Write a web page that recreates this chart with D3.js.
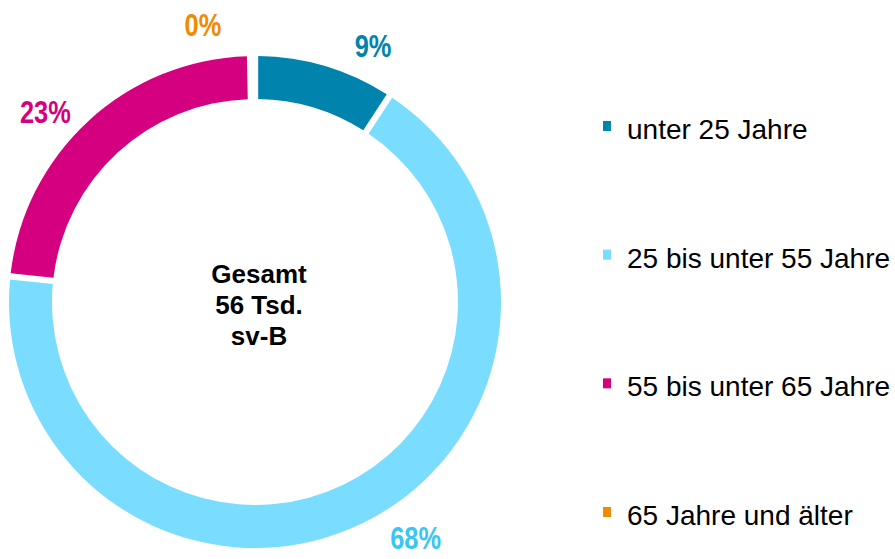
<!DOCTYPE html>
<html>
<head>
<meta charset="utf-8">
<script src="https://cdn.jsdelivr.net/npm/d3@7"></script>
<style>
    html, body { margin: 0; padding: 0; background: #fff; }
    #chart { width: 895px; height: 559px; }
    text { font-family: "Liberation Sans", Arial, sans-serif; }
</style>
</head>
<body>
<div id="chart"></div>
<script>
//Datos
const categorias = ['unter 25 Jahre', '25 bis unter 55 Jahre', '55 bis unter 65 Jahre', '65 Jahre und älter'];
const valores = [9, 68, 23, 0];
const etiquetas = ['9%', '68%', '23%', '0%'];
const centroTexto = ['Gesamt', '56 Tsd.', 'sv-B'];

//Colores fijos
const COLORES = ['#0083AD', '#7ADDFF', '#D5007F', '#F08A00'];
const COLORES_LABEL = ['#0083AD', '#38C6F4', '#D5007F', '#F08A00'];
//Ajuste de ángulo de las etiquetas (grados), como hace Excel
const LABEL_NUDGE = [8, -9, -5, -10];

let width = 895, height = 559;
let cx = 255, cy = 302, outerR = 246, innerR = 203;

let svg = d3.select('#chart')
    .append('svg')
        .attr('width', width)
        .attr('height', height);

let g = svg.append('g')
    .attr('transform', 'translate(' + cx + ',' + cy + ')');

let data = categorias.map(function(c, i) {
    return { cat: c, valor: valores[i], label: etiquetas[i], i: i };
});

let pie = d3.pie()
    .sort(null)
    .value(function(d) { return d.valor; })
    .padAngle(0.02);

let arc = d3.arc()
    .innerRadius(innerR)
    .outerRadius(outerR);

let arcs = pie(data);

g.selectAll('.slice')
    .data(arcs)
    .enter()
    .append('path')
    .attr('class', 'slice')
    .attr('d', arc)
    .attr('fill', function(d) { return COLORES[d.data.i]; })
    .attr('opacity', function(d) { return d.data.valor > 0 ? 1 : 0; });

//Etiquetas de porcentaje (letra estrecha simulada con escala horizontal)
let labelR = 284;
function labelPos(d) {
    let a = (d.startAngle + d.endAngle) / 2 + LABEL_NUDGE[d.data.i] * Math.PI / 180;
    return [Math.sin(a) * labelR, -Math.cos(a) * labelR];
}

g.selectAll('.label')
    .data(arcs)
    .enter()
    .append('g')
    .attr('class', 'label')
    .attr('transform', function(d) {
        let p = labelPos(d);
        return 'translate(' + p[0] + ',' + p[1] + ') scale(0.82,1)';
    })
    .append('text')
    .attr('dy', '0.42em')
    .attr('text-anchor', 'middle')
    .attr('font-size', 31)
    .attr('font-weight', 'bold')
    .attr('fill', function(d) { return COLORES_LABEL[d.data.i]; })
    .text(function(d) { return d.data.label; });

//Texto central
let centro = g.append('text')
    .attr('text-anchor', 'middle')
    .attr('font-size', 26)
    .attr('font-weight', 'bold')
    .attr('fill', '#000');

centro.selectAll('tspan')
    .data(centroTexto)
    .enter()
    .append('tspan')
    .attr('x', 4)
    .attr('y', function(d, i) { return -19 + i * 31; })
    .text(function(d) { return d; });

//Leyenda
let legendY = d3.scalePoint()
    .domain(categorias)
    .range([139, 525]);

let legend = svg.append('g')
    .attr('class', 'legend');

let item = legend.selectAll('.item')
    .data(data)
    .enter()
    .append('g')
    .attr('class', 'item')
    .attr('transform', function(d) { return 'translate(603,' + legendY(d.cat) + ')'; });

item.append('rect')
    .attr('x', 0)
    .attr('y', -18)
    .attr('width', 8)
    .attr('height', 10)
    .attr('fill', function(d) { return COLORES[d.i]; });

item.append('text')
    .attr('x', 24)
    .attr('y', 0)
    .attr('font-size', 28)
    .attr('fill', '#000')
    .text(function(d) { return d.cat; });
</script>
</body>
</html>
